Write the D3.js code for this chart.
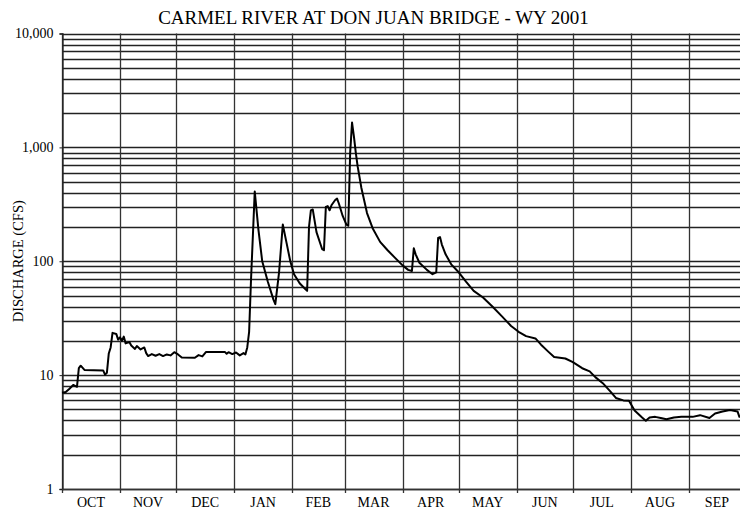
<!DOCTYPE html>
<html>
<head>
<meta charset="utf-8">
<script src="https://cdn.jsdelivr.net/npm/d3@7"></script>
<style>
  body { margin: 0; background: #fff; }
  text { font-family: "Liberation Serif", "Times New Roman", serif; fill: #000; }
</style>
</head>
<body>
<div id="chart"></div>
<script>
// Carmel River at Don Juan Bridge, water year 2001 - daily discharge (cfs)

var title = "CARMEL RIVER AT DON JUAN BRIDGE - WY 2001";
var yLabel = "DISCHARGE (CFS)";
var monthLabels = ["OCT", "NOV", "DEC", "JAN", "FEB", "MAR", "APR", "MAY", "JUN", "JUL", "AUG", "SEP"];
var yTickValues = [1, 10, 100, 1000, 10000];

var dates = [
  "2000-10-01","2000-10-03","2000-10-05","2000-10-07","2000-10-09","2000-10-10","2000-10-11","2000-10-13",
  "2000-10-23","2000-10-24","2000-10-25","2000-10-26","2000-10-27","2000-10-28","2000-10-30","2000-10-31",
  "2000-11-01","2000-11-02","2000-11-03","2000-11-04","2000-11-06","2000-11-07","2000-11-09","2000-11-10",
  "2000-11-12","2000-11-14","2000-11-15","2000-11-16","2000-11-18","2000-11-20","2000-11-22","2000-11-24",
  "2000-11-26","2000-11-28","2000-11-30","2000-12-02","2000-12-04","2000-12-11","2000-12-13","2000-12-15",
  "2000-12-17","2000-12-27","2000-12-28","2000-12-29","2000-12-31","2001-01-02","2001-01-04","2001-01-06",
  "2001-01-07","2001-01-08","2001-01-09","2001-01-10","2001-01-12","2001-01-14","2001-01-16","2001-01-19",
  "2001-01-22","2001-01-23","2001-01-25","2001-01-27","2001-01-29","2001-01-31","2001-02-02","2001-02-05",
  "2001-02-08","2001-02-09","2001-02-10","2001-02-11","2001-02-12","2001-02-14","2001-02-17","2001-02-18",
  "2001-02-19","2001-02-20","2001-02-21","2001-02-22","2001-02-24","2001-02-25","2001-02-26","2001-02-28",
  "2001-03-02","2001-03-03","2001-03-04","2001-03-05","2001-03-06","2001-03-07","2001-03-08","2001-03-10",
  "2001-03-13","2001-03-16","2001-03-20","2001-03-24","2001-03-28","2001-04-01","2001-04-04","2001-04-06",
  "2001-04-07","2001-04-08","2001-04-10","2001-04-14","2001-04-17","2001-04-19","2001-04-20","2001-04-21",
  "2001-04-22","2001-04-24","2001-04-27","2001-05-01","2001-05-05","2001-05-09","2001-05-14","2001-05-19",
  "2001-05-24","2001-05-29","2001-06-02","2001-06-06","2001-06-11","2001-06-14","2001-06-18","2001-06-21",
  "2001-06-27","2001-07-01","2001-07-06","2001-07-10","2001-07-13","2001-07-17","2001-07-21","2001-07-24",
  "2001-07-28","2001-07-31","2001-08-03","2001-08-07","2001-08-09","2001-08-11","2001-08-14","2001-08-17",
  "2001-08-20","2001-08-24","2001-08-28","2001-09-03","2001-09-07","2001-09-12","2001-09-15","2001-09-19",
  "2001-09-23","2001-09-27","2001-09-28","2001-09-30"
];

var flow = [
  7.0, 7.1, 7.6, 8.2, 7.9, 11.5, 12.1, 11.1,
  11.0, 10.1, 10.5, 15.5, 17.5, 23.5, 23.0, 20.5,
  21.5, 20.0, 21.8, 19.0, 19.5, 18.2, 17.0, 18.0,
  16.8, 17.5, 15.6, 14.7, 15.3, 14.8, 15.3, 14.7,
  15.2, 14.9, 15.9, 15.2, 14.3, 14.2, 15.0, 14.6,
  16.0, 16.0, 15.4, 15.9, 15.3, 15.8, 14.9, 15.6,
  15.2, 17.5, 24, 68, 410, 188, 100, 66,
  46, 42, 80, 210, 145, 100, 77, 64,
  57, 55, 200, 280, 285, 180, 128, 125,
  300, 305, 280, 310, 345, 355, 320, 250,
  210, 205, 900, 1650, 1250, 900, 680, 440,
  265, 195, 148, 125, 107, 92, 84, 82,
  130, 115, 97, 84, 77, 80, 160, 163,
  140, 115, 94, 80, 66, 55, 48, 40,
  33, 27, 24, 22, 21, 18.5, 16, 14.4,
  14, 13, 11.5, 10.8, 9.6, 8.5, 7.2, 6.3,
  6.0, 5.95, 4.9, 4.25, 3.98, 4.25, 4.3, 4.2,
  4.1, 4.25, 4.3, 4.3, 4.45, 4.2, 4.6, 4.8,
  4.95, 4.8, 4.3, 4.3
];

// ---------------------------------------------------------------------//
//                              Setup                                   //
// ---------------------------------------------------------------------//

var width = 740, height = 513;
var plotLeft = 62, plotRight = 745, plotTop = 33.5, plotBottom = 489;

var parse = d3.timeParse("%Y-%m-%d");
var data = dates.map(function(d, i) { return { date: parse(d), q: flow[i] }; });

var svg = d3.select("#chart").append("svg")
  .attr("width", width)
  .attr("height", height);

var x = d3.scaleTime()
  .domain([parse("2000-10-01"), parse("2001-10-01")])
  .range([plotLeft, plotRight]);

var y = d3.scaleLog()
  .domain([1, 10000])
  .range([plotBottom, plotTop]);

var months = d3.timeMonth.range(parse("2000-10-01"), parse("2001-10-01"));

// ---------------------------------------------------------------------//
//                             Grid lines                               //
// ---------------------------------------------------------------------//

var gridValues = [];
[1, 10, 100, 1000].forEach(function(dec) {
  for (var k = 1; k < 10; k++) gridValues.push(k * dec);
});
gridValues.push(10000);

svg.append("g").selectAll("line")
  .data(gridValues)
  .enter().append("line")
  .attr("x1", plotLeft)
  .attr("x2", plotRight)
  .attr("y1", function(d) { return Math.round(y(d)) + 0.5; })
  .attr("y2", function(d) { return Math.round(y(d)) + 0.5; })
  .attr("stroke", "#222")
  .attr("stroke-width", 1.3);

svg.append("g").selectAll("line")
  .data(months)
  .enter().append("line")
  .attr("x1", function(d) { return Math.round(x(d)) + 0.5; })
  .attr("x2", function(d) { return Math.round(x(d)) + 0.5; })
  .attr("y1", plotTop)
  .attr("y2", plotBottom + 4)
  .attr("stroke", "#333")
  .attr("stroke-width", 1.3);

// ---------------------------------------------------------------------//
//                                Axes                                  //
// ---------------------------------------------------------------------//

var yAxis = svg.append("g")
  .attr("transform", "translate(" + (plotLeft + 0.5) + ",0)")
  .call(d3.axisLeft(y).tickValues(yTickValues).tickFormat(d3.format(",")).tickSize(3).tickPadding(6));
yAxis.select(".domain").attr("stroke", "#222").attr("stroke-width", 1.3);
yAxis.selectAll(".tick line").attr("stroke", "#222");
yAxis.selectAll("text")
  .attr("font-family", "Liberation Serif, serif")
  .attr("font-size", 14)
  .attr("fill", "#000");

svg.append("line")
  .attr("x1", plotLeft).attr("x2", plotRight)
  .attr("y1", plotBottom + 0.5).attr("y2", plotBottom + 0.5)
  .attr("stroke", "#333").attr("stroke-width", 1.5);

svg.append("g").selectAll("text")
  .data(months)
  .enter().append("text")
  .attr("x", function(d) { return (x(d) + x(d3.timeMonth.offset(d, 1))) / 2; })
  .attr("y", 507)
  .attr("text-anchor", "middle")
  .attr("font-size", 14)
  .text(function(d, i) { return monthLabels[i]; });

svg.append("text")
  .attr("transform", "translate(23," + ((plotTop + plotBottom) / 2) + ") rotate(-90)")
  .attr("text-anchor", "middle")
  .attr("font-size", 14.5)
  .text(yLabel);

svg.append("text")
  .attr("x", 373.5)
  .attr("y", 23.5)
  .attr("text-anchor", "middle")
  .attr("font-size", 19)
  .text(title);

// ---------------------------------------------------------------------//
//                            Discharge line                            //
// ---------------------------------------------------------------------//

var line = d3.line()
  .x(function(d) { return x(d.date); })
  .y(function(d) { return y(d.q); });

svg.append("path")
  .datum(data)
  .attr("fill", "none")
  .attr("stroke", "#000")
  .attr("stroke-width", 2)
  .attr("stroke-linejoin", "round")
  .attr("d", line);
</script>
</body>
</html>
